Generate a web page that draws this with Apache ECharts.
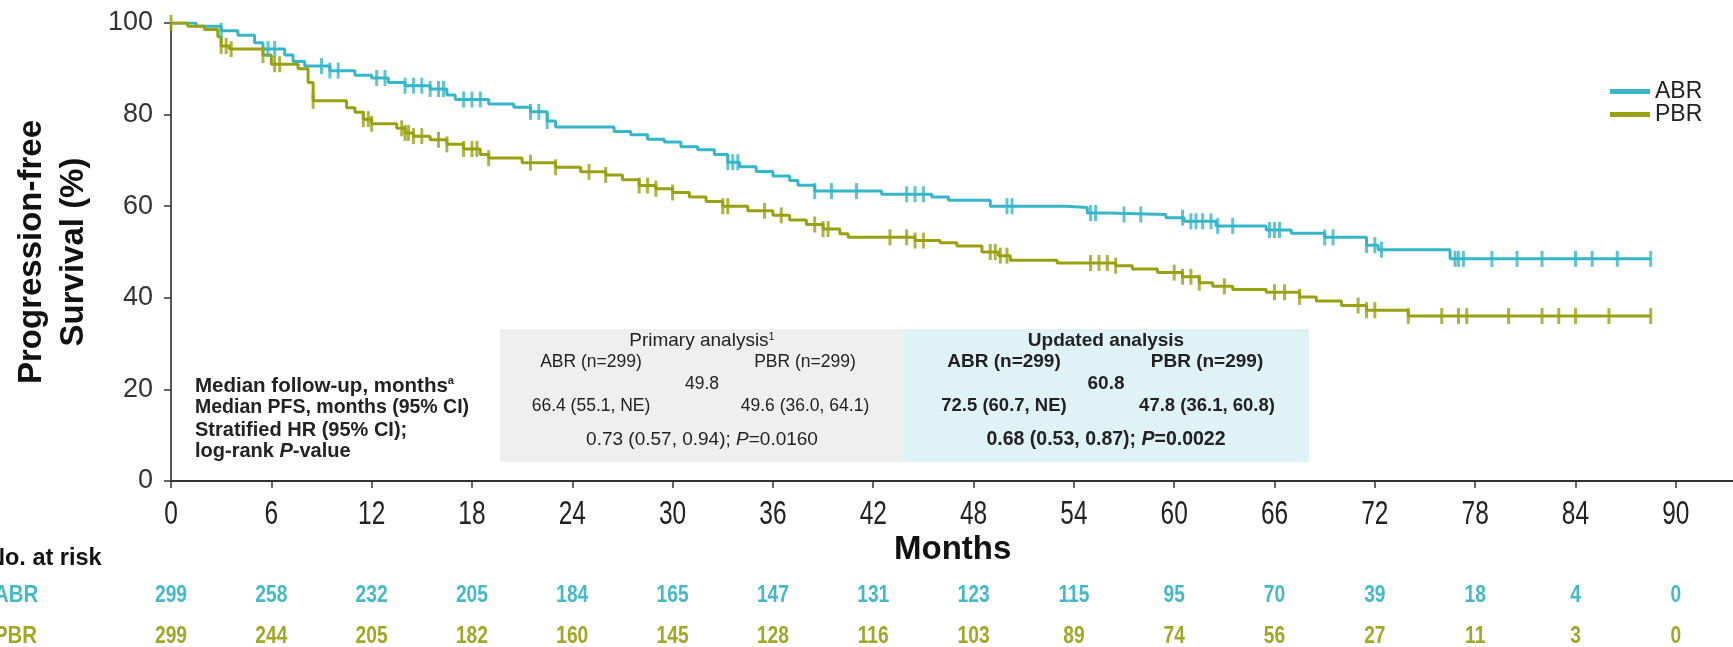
<!DOCTYPE html>
<html>
<head>
<meta charset="utf-8">
<script src="https://cdn.jsdelivr.net/npm/echarts@6/dist/echarts.min.js"></script>
<style>
  html, body { margin: 0; padding: 0; background: #ffffff; }
  #chart { width: 1733px; height: 647px; }
</style>
</head>
<body>
<div id="chart"></div>
<script>
// Kaplan–Meier progression-free survival, ABR vs PBR

const monthTicks = [0, 6, 12, 18, 24, 30, 36, 42, 48, 54, 60, 66, 72, 78, 84, 90];
const yTicks = [0, 20, 40, 60, 80, 100];

// [month, survival % after the event]
const abrSteps = [
  [0, 100], [1.5, 99.3], [3, 98.3], [4, 97.3], [5, 95.7], [5.5, 94.3], [6.8, 93], [7.3, 91.6],
  [8, 90.6], [9.5, 89.6], [11, 88.6], [12, 88], [13, 87], [14, 86.3], [15.5, 85.6], [16.5, 84.3],
  [17, 83.3], [19, 82.3], [20.5, 81.6], [21.5, 80.6], [22.5, 78.6], [23, 77.3], [26.5, 76.3],
  [27.5, 75.6], [28.5, 74.6], [29.5, 74], [30.5, 73], [31.5, 72.3], [32.5, 71.3], [33.3, 69.6],
  [34, 68.6], [35, 67.6], [36, 66.6], [37, 65.6], [37.5, 64.6], [38.5, 63.3], [42.5, 62.6],
  [45.5, 62], [46.5, 61.3], [49, 60], [53.5, 59.7], [54.8, 58.5], [56, 58.2], [59.5, 57.5],
  [60.6, 56.7], [62.5, 55.7], [65.5, 54.8], [67, 54.1], [69, 53.2], [71.5, 51.5], [72.2, 50.5],
  [76.5, 48.5], [88.5, 48.5]
];
const pbrSteps = [
  [0, 100], [1, 99.3], [2, 98.6], [2.8, 97], [3, 95], [3.5, 94.3], [5.5, 93], [6, 91],
  [7.6, 90], [8.2, 87], [8.5, 83], [10.5, 81.5], [11, 80.5], [11.5, 79], [12, 78], [13.5, 77],
  [14, 76], [14.5, 75.3], [15.5, 74.5], [16.5, 73.5], [17.5, 72.5], [18.5, 71.3], [19, 70.5],
  [21, 69.5], [23, 68.5], [24.5, 67.5], [26, 66.8], [27, 65.8], [28, 64.5], [29, 63.8], [30, 63],
  [31, 62], [32, 61], [33, 60], [34.5, 59], [36, 58], [37, 57], [38, 56], [39, 55], [40, 54],
  [40.5, 53.2], [44.5, 52.5], [46, 52], [47, 51.3], [48.5, 50], [49.5, 49.2], [50.2, 48.2],
  [53, 47.6], [56.5, 47], [57.5, 46.3], [59, 45.5], [60.5, 44.6], [61.5, 43.3], [62.3, 42.5],
  [63.5, 41.8], [65.5, 41.2], [67.5, 40.2], [68.5, 39.3], [70, 38.3], [71.5, 37.3], [74, 36],
  [88.5, 36]
];

// censoring times (months)
const abrCensor = [
  3, 5.8, 6.2, 9, 9.5, 10, 12.3, 12.8, 14, 14.5, 15, 15.5, 16, 16.3, 17.5, 18, 18.5, 21.5, 22,
  22.5, 33.3, 33.6, 33.9, 38.5, 39.5, 41, 44, 44.5, 45, 50, 50.3, 55, 55.3, 57, 58, 60.5, 61,
  61.3, 61.7, 62.2, 62.6, 63.5, 65.7, 66, 66.3, 69, 69.5, 71.5, 72, 72.4, 76.8, 77, 77.3, 79,
  80.5, 82, 84, 85, 86.5, 88.5
];
const pbrCensor = [
  0, 3, 3.3, 3.6, 5.5, 6.2, 6.5, 8.5, 11.5, 11.8, 12, 13.8, 14, 14.2, 14.5, 15, 16, 16.5, 17.5,
  18, 18.3, 19, 21.5, 23, 25, 26, 28, 28.5, 29, 30, 33, 33.3, 35.5, 36.5, 38.5, 39, 39.3, 43, 44,
  44.5, 45, 49, 49.3, 49.6, 50, 55, 55.5, 56, 56.5, 60, 60.5, 61, 61.5, 63, 66, 66.6, 67.5, 71,
  71.5, 72, 74, 76, 77, 77.5, 80, 82, 83, 84, 86, 88.5
];

const abrAtRisk = [299, 258, 232, 205, 184, 165, 147, 131, 123, 115, 95, 70, 39, 18, 4, 0];
const pbrAtRisk = [299, 244, 205, 182, 160, 145, 128, 116, 103, 89, 74, 56, 27, 11, 3, 0];

const seriesNames = ['ABR', 'PBR'];

const rowLabels = [
  'Median follow-up, months{sup|a}',
  'Median PFS, months (95% CI)',
  'Stratified HR (95% CI);',
  'log-rank {i|P}-value'
];
const primaryTitle = 'Primary analysis{sup|1}';
const primaryArms = ['ABR (n=299)', 'PBR (n=299)'];
const primaryFollowUp = '49.8';
const primaryMedians = ['66.4 (55.1, NE)', '49.6 (36.0, 64.1)'];
const primaryHR = '0.73 (0.57, 0.94); {i|P}=0.0160';
const updatedTitle = 'Updated analysis';
const updatedArms = ['ABR (n=299)', 'PBR (n=299)'];
const updatedFollowUp = '60.8';
const updatedMedians = ['72.5 (60.7, NE)', '47.8 (36.1, 60.8)'];
const updatedHR = '0.68 (0.53, 0.87); {i|P}=0.0022';

const COL_ABR = '#36b6c8';
const COL_PBR = '#99a111';
const NUM_ABR = '#45b9c9';
const NUM_PBR = '#a1a726';
const ARIAL = 'Liberation Sans, Arial, sans-serif';

function survivalAt(steps, t) {
  let s = steps[0][1];
  for (const p of steps) { if (p[0] <= t) s = p[1]; else break; }
  return s;
}

const X_MAX = 93.5;
const GRID_LEFT = 171;
const GRID_W = 16.72 * X_MAX;

const chart = echarts.init(document.getElementById('chart'), null, { renderer: 'canvas' });

// condensed text drawn at a data position of a given grid
function condensedTextSeries(values, idx, dy, font) {
  return {
    type: 'custom',
    xAxisIndex: idx, yAxisIndex: idx,
    silent: true, clip: false, z: 5,
    data: values.map((v, i) => [monthTicks[i], 0, v]),
    renderItem: (params, api) => {
      const p = api.coord([api.value(0), api.value(1)]);
      return {
        type: 'text', x: p[0], y: p[1] + dy, scaleX: font.scaleX,
        style: {
          text: String(values[params.dataIndex]), align: 'center', verticalAlign: 'middle',
          fontFamily: ARIAL, fontSize: font.size, fontWeight: font.weight, fill: font.color
        }
      };
    }
  };
}

function tableText(x, y, text, size, bold, align) {
  const w = bold ? 'bold' : 'normal';
  return {
    type: 'text', x: x, y: y, z: 10,
    style: {
      text: text, align: align || 'center', verticalAlign: 'middle',
      fontFamily: ARIAL, fontSize: size, fontWeight: w, fill: '#222',
      rich: {
        sup: { fontSize: 11, verticalAlign: 'top', fontWeight: w, fill: '#222', padding: [0, 0, 8, 0] },
        i: { fontStyle: 'italic', fontSize: size, fontWeight: w, fill: '#222' }
      }
    }
  };
}

const graphics = [
  { type: 'rect', shape: { x: 500, y: 329, width: 404, height: 133 }, style: { fill: '#efefef' }, z: 1 },
  { type: 'rect', shape: { x: 904, y: 329, width: 405, height: 133 }, style: { fill: '#dff2f6' }, z: 1 },
  tableText(702, 341, primaryTitle, 19, false),
  tableText(591, 362, primaryArms[0], 17.5, false),
  tableText(805, 362, primaryArms[1], 17.5, false),
  tableText(702, 384, primaryFollowUp, 17.5, false),
  tableText(591, 406, primaryMedians[0], 17.5, false),
  tableText(805, 406, primaryMedians[1], 17.5, false),
  tableText(702, 440, primaryHR, 19, false),
  tableText(1106, 341, updatedTitle, 19, true),
  tableText(1004, 362, updatedArms[0], 19, true),
  tableText(1207, 362, updatedArms[1], 19, true),
  tableText(1106, 384, updatedFollowUp, 19, true),
  tableText(1004, 406, updatedMedians[0], 18.5, true),
  tableText(1207, 406, updatedMedians[1], 18.5, true),
  tableText(1106, 440, updatedHR, 19.5, true),
  tableText(195, 386, rowLabels[0], 20.5, true, 'left'),
  tableText(195, 408, rowLabels[1], 19.5, true, 'left'),
  tableText(195, 430, rowLabels[2], 20, true, 'left'),
  tableText(195, 451, rowLabels[3], 20, true, 'left'),
  { type: 'text', x: -12, y: 559, style: { text: 'No. at risk', align: 'left', verticalAlign: 'middle', fontFamily: ARIAL, fontWeight: 'bold', fontSize: 23.5, fill: '#111' } },
  { type: 'text', x: -6, y: 595, scaleX: 0.85, style: { text: seriesNames[0], align: 'left', verticalAlign: 'middle', fontFamily: ARIAL, fontWeight: 'bold', fontSize: 24, fill: NUM_ABR } },
  { type: 'text', x: -6, y: 636, scaleX: 0.85, style: { text: seriesNames[1], align: 'left', verticalAlign: 'middle', fontFamily: ARIAL, fontWeight: 'bold', fontSize: 24, fill: NUM_PBR } }
];

const option = {
  animation: false,
  backgroundColor: '#ffffff',
  legend: {
    orient: 'vertical', left: 1610, top: 80,
    itemWidth: 40, itemHeight: 5, itemGap: 0, padding: 0,
    icon: 'rect',
    data: seriesNames,
    textStyle: { fontFamily: ARIAL, fontSize: 23, color: '#222', lineHeight: 21 }
  },
  grid: [
    { left: GRID_LEFT, top: 23, width: GRID_W, height: 458, containLabel: false, outerBoundsMode: 'none' },
    { left: GRID_LEFT, top: 585, width: GRID_W, height: 20, containLabel: false, outerBoundsMode: 'none' },
    { left: GRID_LEFT, top: 626, width: GRID_W, height: 20, containLabel: false, outerBoundsMode: 'none' }
  ],
  xAxis: [
    {
      type: 'value', min: 0, max: X_MAX, interval: 6, gridIndex: 0,
      name: 'Months', nameLocation: 'middle', nameGap: 52, nameMoveOverlap: false,
      nameTextStyle: { fontFamily: ARIAL, fontSize: 33, fontWeight: 'bold', color: '#111' },
      axisLine: { show: true, lineStyle: { color: '#333', width: 2 } },
      axisTick: { show: true, length: 7, lineStyle: { color: '#333', width: 1.5 } },
      axisLabel: { show: false },
      splitLine: { show: false }
    },
    { type: 'value', min: 0, max: X_MAX, gridIndex: 1, show: false },
    { type: 'value', min: 0, max: X_MAX, gridIndex: 2, show: false }
  ],
  yAxis: [
    {
      type: 'value', min: 0, max: 100, interval: 20, gridIndex: 0,
      name: 'Progression-free\nSurvival (%)', nameLocation: 'middle', nameGap: 76, nameRotate: 90,
      nameMoveOverlap: false,
      nameTextStyle: { fontFamily: ARIAL, fontSize: 33, fontWeight: 'bold', color: '#111', lineHeight: 42 },
      axisLine: { show: true, lineStyle: { color: '#555', width: 2 } },
      axisTick: { show: true, length: 7, lineStyle: { color: '#333', width: 1.5 } },
      axisLabel: { fontFamily: ARIAL, fontSize: 27, color: '#333', margin: 18,
        formatter: v => (yTicks.indexOf(v) >= 0 ? String(v) : '') },
      splitLine: { show: false }
    },
    { type: 'value', min: 0, max: 1, gridIndex: 1, show: false },
    { type: 'value', min: 0, max: 1, gridIndex: 2, show: false }
  ],
  graphic: graphics,
  series: [
    {
      name: seriesNames[0], type: 'line', step: 'end', data: abrSteps, showSymbol: false,
      color: COL_ABR, lineStyle: { color: COL_ABR, width: 3 }, z: 3
    },
    {
      name: seriesNames[1], type: 'line', step: 'end', data: pbrSteps, showSymbol: false,
      color: COL_PBR, lineStyle: { color: COL_PBR, width: 3 }, z: 3
    },
    {
      name: seriesNames[0] + ' censored', type: 'scatter', symbol: 'rect', symbolSize: [3, 16],
      itemStyle: { color: COL_ABR }, z: 4, silent: true,
      data: abrCensor.map(t => [t, survivalAt(abrSteps, t)])
    },
    {
      name: seriesNames[1] + ' censored', type: 'scatter', symbol: 'rect', symbolSize: [3, 16],
      itemStyle: { color: COL_PBR }, z: 4, silent: true,
      data: pbrCensor.map(t => [t, survivalAt(pbrSteps, t)])
    },
    // month tick labels
    condensedTextSeries(monthTicks, 0, 34, { size: 34, weight: 'normal', color: '#222', scaleX: 0.72 }),
    // numbers at risk
    condensedTextSeries(abrAtRisk, 1, -10, { size: 24, weight: 'bold', color: NUM_ABR, scaleX: 0.8 }),
    condensedTextSeries(pbrAtRisk, 2, -10, { size: 24, weight: 'bold', color: NUM_PBR, scaleX: 0.8 })
  ]
};

chart.setOption(option);
</script>
</body>
</html>
